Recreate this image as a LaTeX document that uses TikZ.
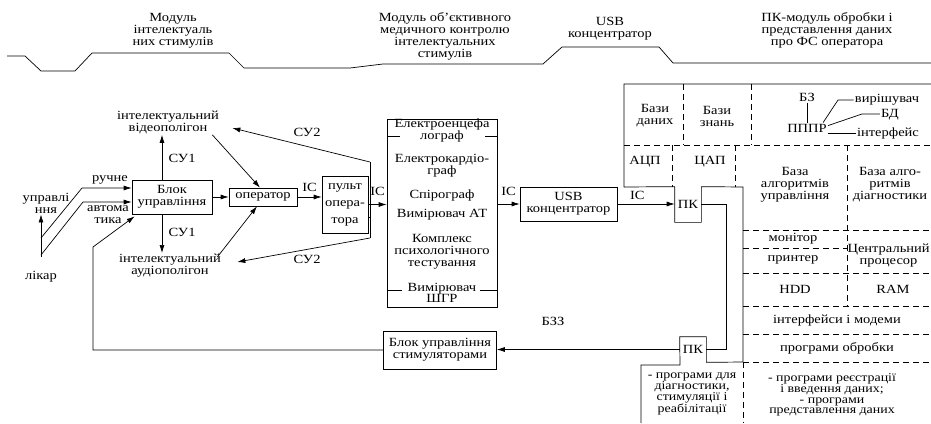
\documentclass[tikz,border=0pt]{standalone}
\usepackage{fontspec}
\setmainfont{Liberation Serif}[FakeStretch=1.16]
\usetikzlibrary{arrows.meta}

\begin{document}
\begin{tikzpicture}[x=1pt,y=-1pt,line width=0.7pt,
    every node/.style={font=\fontsize{12.5}{12}\selectfont,align=center,inner sep=1pt},
    box/.style={draw,inner sep=0pt},
    arr/.style={-{Latex[length=8pt,width=5pt]}},
    dsh/.style={dash pattern=on 6pt off 4pt},
    tight/.style={font=\fontsize{12}{10.6}\selectfont}]
    \useasboundingbox (0,0) rectangle (931,423);

    \draw (7,56) -- (25,56) -- (41,71) -- (75,71) -- (92,53) -- (229,53) -- (244,68) -- (350,68)
        -- (383,64) -- (543,64) -- (562,47) -- (659,47) -- (673,63) -- (931,63);
    \node (t1) at (173,31) {Модуль\\інтелектуаль\\них стимулів};
    \node (t2) at (445,36) {Модуль об’єктивного\\медичного контролю\\інтелектуальних\\стимулів};
    \node (t3) at (610,29) {USB\\концентратор};
    \node (t4) at (827,30) {ПК-модуль обробки і\\представлення даних\\про ФС оператора};

    \node[box,minimum width=80pt,minimum height=34pt] (blok) at (172,197) {Блок\\управління};
    \node (video) at (168,122) {інтелектуальний\\відеополігон};
    \node (audio) at (170,266) {інтелектуальний\\аудіополігон};
    \node[box,minimum width=68pt,minimum height=18pt] (oper) at (263,197) {оператор};
    \node[box,minimum width=46pt,minimum height=57pt,font=\fontsize{12.5}{17}\selectfont] (pult) at (345,204.5) {пульт\\опера-\\тора};
    \node[box,minimum width=110pt,minimum height=188pt] (eeg) at (442,213) {};
    \node[box,minimum width=97pt,minimum height=34pt] (usb) at (568.5,204) {USB\\концентратор};
    \node[box,minimum width=113pt,minimum height=38pt] (stim) at (440,350) {Блок управління\\стимуляторами};
    \node[minimum width=26pt,minimum height=35pt,inner sep=0pt] (pc1) at (688,204.5) {ПК};
    \node[minimum width=26pt,minimum height=25pt,inner sep=0pt] (pc2) at (693,349.5) {ПК};

    \node (likar) at (41,277) {лікар};
    \node (uprav) at (46,203) {управлі\\ння};
    \node (ruchne) at (110,180) {ручне};
    \node (avto) at (108,215) {автома\\тика};
    \node (su1a) at (182,158) {СУ1};
    \node (su1b) at (182,232) {СУ1};
    \node (su2a) at (307,132) {СУ2};
    \node (su2b) at (307,259) {СУ2};
    \node (bzz) at (553,321) {БЗЗ};

    \coordinate (lroot) at (41,257);
    \coordinate (r1) at (41,238);
    \coordinate (r2) at (82,188);
    \coordinate (a1) at (41,255);
    \coordinate (a2) at (83,202);
    \coordinate (fb) at (93,247);
    \coordinate (s2t) at (370,162);
    \coordinate (s2b) at (370,238);
    \coordinate (stub) at ([yshift=-12.5pt]pult.east);
    \coordinate (bus) at (726,280);

    \draw[arr] (lroot) -- (lroot |- uprav.south);
    \draw[arr] (r1) -- (r2) -- (r2 -| blok.west);
    \draw[arr] (a1) -- (a2) -- (a2 -| blok.west);
    \draw[arr] (stim.west) -| (fb) -- ([shift={(3pt,-2pt)}]blok.south west);
    \draw[arr] ([xshift=-10pt]blok.north) -- ([xshift=-6pt]video.south);
    \draw[arr] ([xshift=-10pt]blok.south) -- ([xshift=-8pt]audio.north);
    \draw[arr] (blok) -- (oper);
    \draw[arr] ([xshift=-8pt]video.south east) -- ([xshift=-3pt]oper.north);
    \draw[arr] ([shift={(-5pt,9pt)}]audio.east) -- ([xshift=-6pt]oper.south);
    \draw[arr] (oper) -- (oper -| pult.west) node[midway,above=4pt] {ІС};
    \draw[arr] (pult) -- (pult -| eeg.west) node[midway,above=8pt] {ІС};
    \draw (stub) -- (stub -| s2t);
    \draw (s2t) -- (s2b);
    \draw[arr] (s2t) -- ([shift={(12pt,-6pt)}]video.east);
    \draw[arr] (s2b) -- ([shift={(15pt,4pt)}]audio.east);
    \draw[arr] (usb.west -| eeg.east) -- (usb.west) node[midway,above=7pt] {ІС};
    \draw[arr] (usb.east) -- (usb.east -| pc1.west) node[pos=0.35,above=3pt] {ІС};
    \draw[arr] (pc2) -- (pc2 -| stim.east);
    \draw (pc2.east) -| (bus) |- (pc1.east);

    \draw (387,136) -- (400,136) (485,136) -- (497,136) (387,290) -- (402,290) (480,290) -- (497,290);
    \node (eeg1) at (442,130.5) {Електроенцефа\\лограф};
    \node (eeg2) at (442,165.5) {Електрокардіо-\\граф};
    \node (eeg3) at (442,195) {Спірограф};
    \node (eeg4) at (442,215) {Вимірювач АТ};
    \node (eeg5) at (442,251.5) {Комплекс\\психологічного\\тестування};
    \node[font=\fontsize{12.5}{11}\selectfont] (eeg6) at (442,293) {Вимірювач\\ШГР};

    \draw (931,84) -- (624,84) -- (624,187) -- (pc1.north west) -- (pc1.south west) -- (pc1.south east)
        -- (pc1.north east) -- (743,187) -- (743,362) -- (pc2.south east) -- (pc2.north east)
        -- (pc2.north west) -- (680,365) -- (641,365) -- (641,423);
    \foreach \y in {230,273,306,334,362}
        \draw[dsh] (743,\y) -- (931,\y);
    \draw[dsh] (624,145) -- (931,145) (743,248) -- (847,248);
    \foreach \x/\ya/\yb in {683/84/145,751/84/145,672/145/187,735/145/187,847/145/306,743/362/423}
        \draw[dsh] (\x,\ya) -- (\x,\yb);

    \node (bdan) at (655,116) {Бази\\даних};
    \node (bzn) at (717,116) {Бази\\знань};
    \node (bz) at (807,97) {БЗ};
    \node (pppr) at (807,128) {ПППР};
    \node (vir) at (887,100) {вирішувач};
    \node (bd) at (890,115) {БД};
    \node (intf) at (888,133) {інтерфейс};
    \coordinate (k1) at (838,100);
    \coordinate (k2) at (862,114);
    \draw (bz) -- (pppr);
    \draw ([xshift=-5pt]pppr.north east) -- (k1) -- (vir.west);
    \draw ([yshift=-3pt]pppr.north east) -- (k2) -- (k2 -| bd.west);
    \draw (pppr.south east |- intf.west) -- (intf.west);
    \node (adc) at (645,162) {АЦП};
    \node (dac) at (710,162) {ЦАП};
    \node (balg) at (795,185) {База\\алгоритмів\\управління};
    \node (bdiag) at (890,185) {База алго-\\ритмів\\діагностики};
    \node (mon) at (793,239) {монітор};
    \node (prn) at (793,260) {принтер};
    \node[anchor=east] (cpu) at (931,256) {Центральний\\процесор};
    \node (hdd) at (795,289) {HDD};
    \node (ram) at (893,289) {RAM};
    \node (ifm) at (837,320) {інтерфейси і модеми};
    \node (probr) at (837,348) {програми обробки};
    \node[tight] (pdiag) at (692,394) {- програми для\\діагностики,\\стимуляції і\\реабілітації};
    \node[tight] (preg) at (832,395) {- програми реєстрації\\і введення даних;\\- програми\\представлення даних};
\end{tikzpicture}
\end{document}
